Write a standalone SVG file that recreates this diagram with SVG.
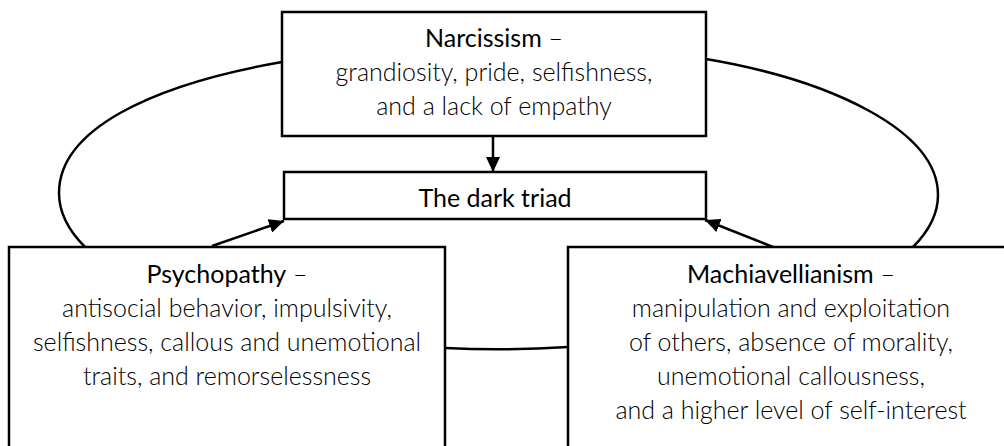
<svg xmlns="http://www.w3.org/2000/svg" width="1004" height="446" viewBox="0 0 1004 446">
<style>
.box{fill:#fff;stroke:#000;stroke-width:2.5}
.t{font-family:Lato,"Open Sans","Liberation Sans",sans-serif;font-size:25px;fill:#000;text-anchor:middle}
.b{font-weight:300}
.h{font-weight:400}
.c{fill:none;stroke:#000;stroke-width:2.5}
</style>
<defs>
<marker id="ah" viewBox="0 0 15 14" refX="15" refY="7" markerWidth="15" markerHeight="14" markerUnits="userSpaceOnUse" orient="auto">
<path d="M0,0 L15,7 L0,14 Z" fill="#000"/>
</marker>
</defs>
<rect width="1004" height="446" fill="#fff"/>
<g id="connectors">
<path class="c" d="M282,62 C150,85 59,130 59,193 C59,215 70,232 85,247"/>
<path class="c" d="M706,59 C830,80 938,130 938,195 C938,215 928,232 913,247"/>
<path class="c" d="M445,348 Q506,351 568,347"/>
<line class="c" x1="493" y1="136" x2="493" y2="172" marker-end="url(#ah)"/>
<line class="c" x1="212" y1="246" x2="284" y2="221" marker-end="url(#ah)"/>
<line class="c" x1="773" y1="247" x2="705" y2="220" marker-end="url(#ah)"/>
</g>
<g id="narcissism">
<rect class="box" x="282" y="12" width="424" height="124"/>
<text class="t" x="494" y="47"><tspan class="h">Narcissism</tspan><tspan class="b"> –</tspan></text>
<text class="t b" x="494" y="81">grandiosity, pride, selfishness,</text>
<text class="t b" x="494" y="115">and a lack of empathy</text>
</g>
<g id="dark-triad">
<rect class="box" x="284" y="172" width="422" height="47"/>
<text class="t h" x="495" y="207">The dark triad</text>
</g>
<g id="psychopathy">
<rect class="box" x="9" y="247" width="436" height="210"/>
<text class="t" x="227" y="283"><tspan class="h">Psychopathy</tspan><tspan class="b"> –</tspan></text>
<text class="t b" x="227" y="317">antisocial behavior, impulsivity,</text>
<text class="t b" x="227" y="351">selfishness, callous and unemotional</text>
<text class="t b" x="227" y="385">traits, and remorselessness</text>
</g>
<g id="machiavellianism">
<rect class="box" x="568" y="247" width="450" height="210"/>
<text class="t" x="791" y="283"><tspan class="h">Machiavellianism</tspan><tspan class="b"> –</tspan></text>
<text class="t b" x="791" y="317">manipulation and exploitation</text>
<text class="t b" x="791" y="351">of others, absence of morality,</text>
<text class="t b" x="791" y="385">unemotional callousness,</text>
<text class="t b" x="791" y="419">and a higher level of self-interest</text>
</g>
</svg>
